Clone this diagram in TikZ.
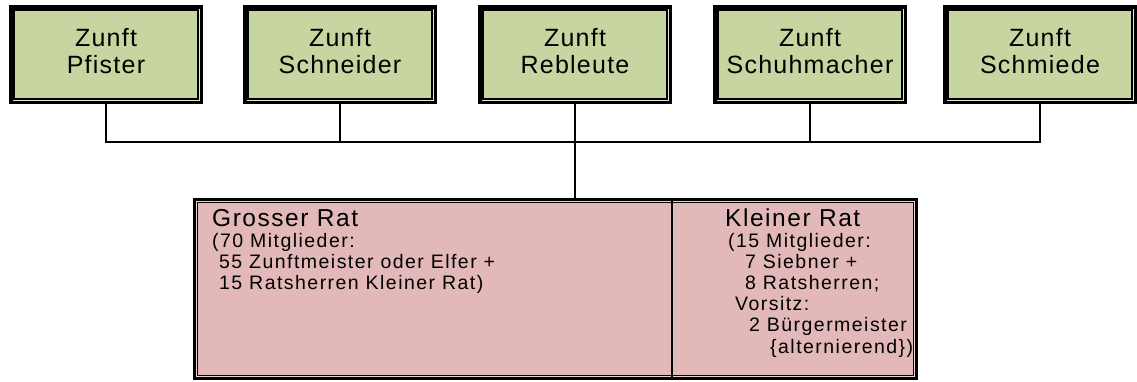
\documentclass[tikz,border=0pt]{standalone}
\usepackage{fontspec}
\setmainfont{Liberation Sans}
\newfontfamily\topfont[LetterSpace=5]{Liberation Sans}
\newfontfamily\headfont[LetterSpace=6.3]{Liberation Sans}
\newfontfamily\bodyfont[LetterSpace=7.5]{Liberation Sans}
\definecolor{zgreen}{RGB}{199,214,160}
\definecolor{zgap}{RGB}{226,229,216}
\definecolor{rpink}{RGB}{227,184,184}
\definecolor{rgap}{RGB}{232,214,214}
\begin{document}
\begin{tikzpicture}[x=1pt,y=-1pt,
  zunft/.style={draw=black, line width=3.5pt, fill=zgap, minimum width=190.5pt, minimum height=95.5pt, inner sep=0pt},
  zinner/.style={draw=black, line width=2pt, fill=zgreen},
  ztext/.style={font=\topfont\fontsize{25}{27.5}\selectfont, align=center, inner sep=0pt},
  ratbox/.style={draw=black, line width=3pt, fill=rgap, minimum width=722pt, minimum height=179pt, inner sep=0pt},
  rinner/.style={draw=black, line width=1.6pt, fill=rpink},
  rhead/.style={font=\headfont\fontsize{24.5}{24.5}\selectfont, anchor=base west, inner sep=0pt},
  rbody/.style={font=\bodyfont\fontsize{19.5}{19.5}\selectfont, anchor=base west, inner sep=0pt},
  conn/.style={draw=black, line width=2.8pt, line join=miter}]
\path[use as bounding box] (0,0) rectangle (1137,381);

% guild boxes
\foreach \i/\cx/\nm in {1/106/Pfister, 2/340/Schneider, 3/575/Rebleute, 4/810/Schuhmacher, 5/1040/Schmiede}{
  \node[zunft] (b\i) at (\cx,54.5) {};
  \draw[zinner] ([shift={(5pt,-5pt)}]b\i.north west) rectangle ([shift={(-5pt,5pt)}]b\i.south east);
  \node[ztext] (t\i) at (\cx,51) {Zunft\\\nm};
}

% council box
\node[ratbox] (big) at (555.5,289) {};
\draw[rinner] ([shift={(4.4pt,-4.4pt)}]big.north west) rectangle ([shift={(-4.4pt,4.4pt)}]big.south east);
\coordinate (dv) at (672,0);
\draw[line width=2.6pt] (dv |- big.north) -- (dv |- big.south);

% connectors
\coordinate (bus) at (0,142);
\draw[conn] (b1.south) -- (b1.south |- bus) -- (b5.south |- bus) -- (b5.south);
\foreach \i in {2,3,4}{ \draw[conn] (b\i.south) -- (b\i.south |- bus); }
\draw[conn] (b3.south) -- (b3.south |- big.north);

% Grosser Rat text
\node[rhead] (g0) at (212,226) {Grosser Rat};
\node[rbody] (g1) at (212,247) {(70 Mitglieder:};
\node[rbody] (g2) at (219,268) {55 Zunftmeister oder Elfer +};
\node[rbody] (g3) at (219,289) {15 Ratsherren Kleiner Rat)};

% Kleiner Rat text
\node[rhead] (k0) at (725,226) {Kleiner Rat};
\node[rbody] (k1) at (728,247) {(15 Mitglieder:};
\node[rbody] (k2) at (745,268) {7 Siebner +};
\node[rbody] (k3) at (745,289) {8 Ratsherren;};
\node[rbody] (k4) at (735,310) {Vorsitz:};
\node[rbody] (k5) at (749,331) {2 Bürgermeister};
\node[rbody] (k6) at (770,353) {\{alternierend\})};
\end{tikzpicture}
\end{document}
